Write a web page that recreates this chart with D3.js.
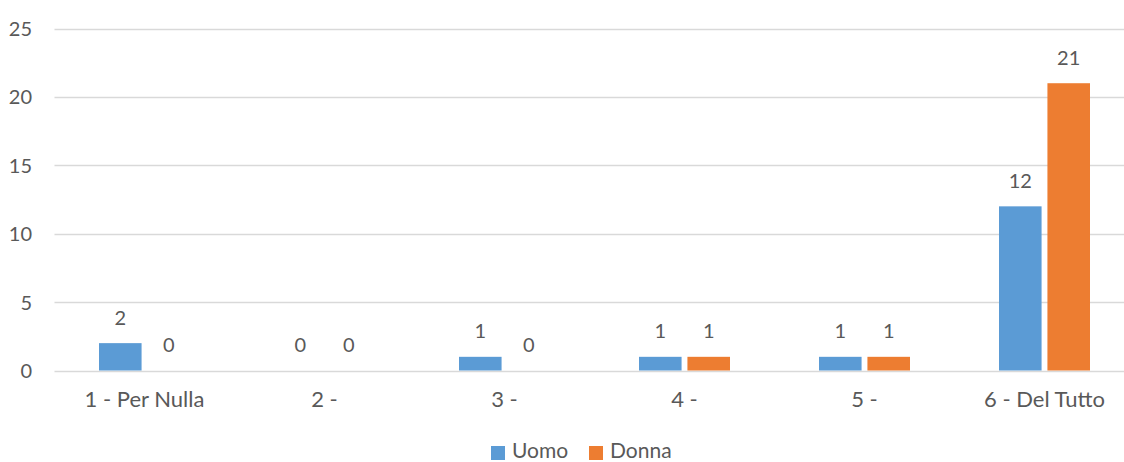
<!DOCTYPE html>
<html><head><meta charset="utf-8">
<script src="https://cdn.jsdelivr.net/npm/d3@7"></script>
<style>body{margin:0;background:#fff;} text{font-family:Lato,"Open Sans",sans-serif;fill:#595959;}</style>
</head><body><svg id="c" width="1124" height="462"></svg>
<script>
const categories = ["1 - Per Nulla","2 -","3 -","4 -","5 -","6 - Del Tutto"];
const seriesNames = ["Uomo","Donna"];
const uomo = [2,0,1,1,1,12];
const donna = [0,0,0,1,1,21];
const yTicks = [0,5,10,15,20,25];
const colors = ["#5B9BD5","#ED7D31"];

const svg = d3.select("#c");
const W = 1124, H = 462;
const x = d3.scaleBand().domain(categories).range([54.5,1134.5]).paddingInner(0).paddingOuter(0);
const y = d3.scaleLinear().domain([0,25]).range([370.5,28.5]);
const inner = d3.scaleBand().domain(seriesNames).range([-45.5,45.5]).paddingInner(11/91);

// gridlines
svg.append("g").selectAll("line").data(yTicks).join("line")
  .attr("x1",54.5).attr("x2",W).attr("y1",d=>Math.round(y(d))+0.5).attr("y2",d=>Math.round(y(d))+0.5)
  .attr("stroke","#D9D9D9").attr("stroke-width",1.3);

// y labels
const ya = d3.axisLeft(y).tickValues(yTicks).tickSize(0).tickPadding(0);
const yg = svg.append("g").attr("transform","translate(32,0)").call(ya);
yg.select(".domain").remove();
yg.selectAll("text").style("font-size","20px").attr("fill","#595959").style("font-family","Lato").attr("dy","0.35em");

// x labels
const xa = d3.axisBottom(x).tickSize(0).tickPadding(0);
const xg = svg.append("g").attr("transform","translate(0,391)").call(xa);
xg.select(".domain").remove();
xg.selectAll("text").style("font-size","22px").attr("fill","#595959").style("font-family","Lato").attr("dy","0.71em");

const data = [uomo, donna];
data.forEach((vals,si)=>{
  const g = svg.append("g");
  g.selectAll("rect").data(vals).join("rect")
    .attr("x",(d,i)=>x(categories[i])+x.bandwidth()/2+inner(seriesNames[si]))
    .attr("width",inner.bandwidth())
    .attr("y",d=>y(d)).attr("height",d=>y(0)-y(d))
    .attr("fill",colors[si]);
  g.selectAll("text").data(vals).join("text")
    .attr("x",(d,i)=>x(categories[i])+x.bandwidth()/2+inner(seriesNames[si])+inner.bandwidth()/2)
    .attr("y",d=>y(d)-18.5)
    .attr("text-anchor","middle")
    .style("font-size","20px")
    .text(d=>d);
});

// legend
const leg = svg.append("g");
const legX = [491, 589];
seriesNames.forEach((n,i)=>{
  leg.append("rect").attr("x",legX[i]).attr("y",446).attr("width",14).attr("height",14).attr("fill",colors[i]);
  leg.append("text").attr("x",legX[i]+21).attr("y",458).style("font-size","21px").text(n);
});
</script></body></html>
